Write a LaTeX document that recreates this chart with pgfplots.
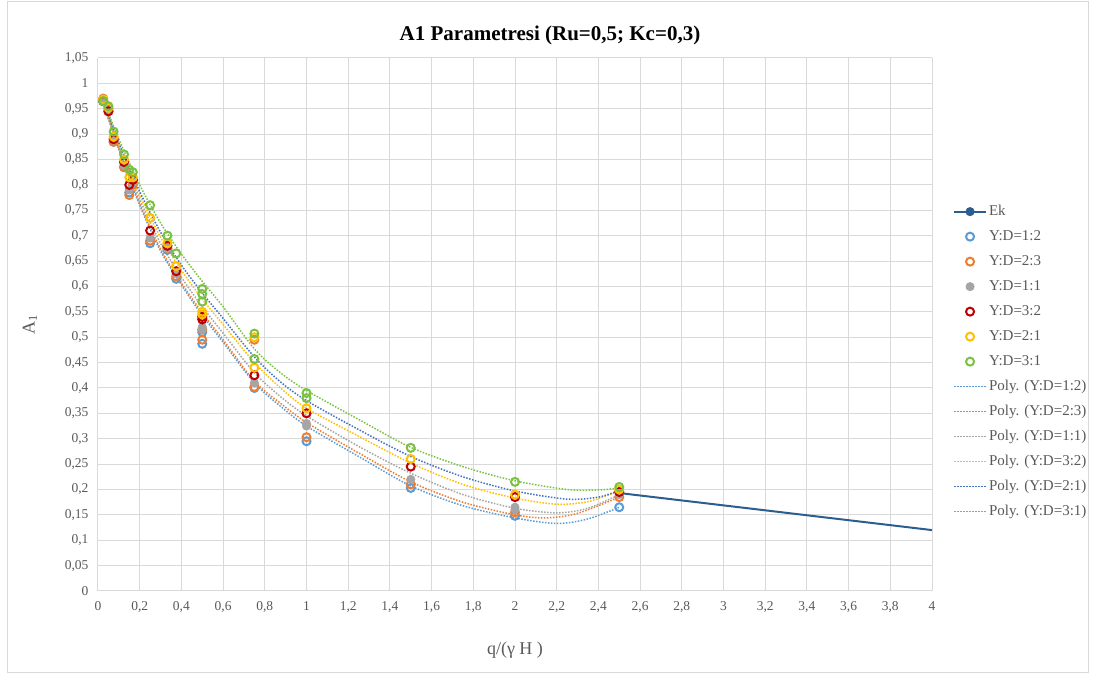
\documentclass[border=0pt]{standalone}
\usepackage{pgfplots}
\pgfplotsset{compat=1.18}
\usepackage{fontspec}
\setmainfont{Liberation Serif}
\definecolor{gridgray}{HTML}{D9D9D9}
\definecolor{textgray}{HTML}{595959}
\definecolor{cEk}{HTML}{2C5D8F}
\definecolor{cA}{HTML}{5B9BD5}
\definecolor{cB}{HTML}{ED7D31}
\definecolor{cC}{HTML}{A5A5A5}
\definecolor{cD}{HTML}{C00000}
\definecolor{cE}{HTML}{FFC000}
\definecolor{cF}{HTML}{7AC143}
\definecolor{cG}{HTML}{4472C4}
\begin{document}
\begin{tikzpicture}[x=1pt,y=1pt]
\path[use as bounding box] (-98,-88) rectangle (996,591);
\draw[gridgray, line width=1pt] (-90,-82) rectangle (990,589);
\node[font=\bfseries\fontsize{21}{24}\selectfont] at (452,556) {A1 Parametresi (Ru=0,5; Kc=0,3)};
\node[rotate=90, font=\fontsize{18}{20}\selectfont, text=textgray] at (-68,266) {A\textsubscript{1}};
\node[font=\fontsize{18}{20}\selectfont, text=textgray] at (417,-59) {q/(γ H )};
\begin{axis}[
  at={(0pt,0pt)}, anchor=south west,
  scale only axis, width=834pt, height=533pt,
  xmin=0, xmax=4, ymin=0, ymax=1.05,
  xtick={0,0.2,0.4,0.6,0.8,1,1.2,1.4,1.6,1.8,2,2.2,2.4,2.6,2.8,3,3.2,3.4,3.6,3.8,4},
  ytick={0,0.05,0.1,0.15,0.2,0.25,0.3,0.35,0.4,0.45,0.5,0.55,0.6,0.65,0.7,0.75,0.8,0.85,0.9,0.95,1,1.05},
  grid=major, major grid style={gridgray, line width=1pt},
  axis line style={draw=none}, tick style={draw=none},
  /pgf/number format/assume math mode=true,
  /pgf/number format/.cd, use comma, fixed, precision=2, /pgfplots/.cd,
  ticklabel style={font=\fontsize{13.5}{15}\selectfont, text=textgray},
  xticklabel style={yshift=-7pt},
  yticklabel style={xshift=-6pt},
  legend cell align=left,
  legend style={at={(1.025,0.729)}, anchor=north west, draw=none, fill=none,
    font=\fontsize{15}{18}\selectfont, inner sep=0pt,
    row sep=7pt, nodes={inner sep=2pt, text height=11pt, text depth=3pt}},
  scat/.style={only marks, color=#1, mark=o, mark size=4pt, line width=2pt,
    legend image code/.code={\draw[#1, line width=2pt] plot[mark=o, mark size=4pt] coordinates {(16pt,0pt)};}},
  poly/.style={smooth, color=#1, line width=1.5pt, dash pattern=on 1.5pt off 1.5pt, no marks,
    legend image code/.code={\draw[#1, line width=1.5pt, dash pattern=on 1.5pt off 1.5pt] (0pt,0pt) -- (32pt,0pt);}},
]
% Ek
\addplot[cEk, line width=2pt, no marks,
  legend image code/.code={\draw[cEk, line width=2pt] (0pt,0pt) -- (32pt,0pt); \fill[cEk] (16pt,0pt) circle (3.5pt);}]
  coordinates {(2.5,0.193) (4,0.12)};
\addlegendentry{\textcolor{textgray}{Ek}}
% Y:D=1:2
\addplot[scat=cA] coordinates {(0.025,0.965) (0.05,0.95) (0.075,0.885) (0.125,0.835) (0.15,0.785) (0.167,0.805) (0.25,0.685) (0.333,0.672) (0.375,0.615) (0.5,0.487) (0.5,0.51) (0.75,0.40) (1,0.295) (1.5,0.203) (2,0.148) (2.5,0.165)};
\addlegendentry{\textcolor{textgray}{Y:D=1:2}}
% Y:D=2:3
\addplot[scat=cB] coordinates {(0.025,0.97) (0.05,0.945) (0.075,0.885) (0.125,0.835) (0.15,0.78) (0.167,0.80) (0.25,0.69) (0.333,0.675) (0.375,0.62) (0.5,0.495) (0.5,0.515) (0.75,0.402) (0.75,0.495) (1,0.303) (1.5,0.21) (2,0.155) (2.5,0.185)};
\addlegendentry{\textcolor{textgray}{Y:D=2:3}}
% Y:D=1:1
\addplot[only marks, cC, mark=*, mark size=4pt, line width=1pt,
  legend image code/.code={\fill[cC] (16pt,0pt) circle (4pt);}] coordinates {(0.025,0.968) (0.05,0.948) (0.075,0.888) (0.125,0.838) (0.15,0.79) (0.167,0.805) (0.25,0.695) (0.333,0.675) (0.375,0.625) (0.5,0.515) (0.5,0.52) (0.75,0.41) (1,0.325) (1,0.33) (1.5,0.22) (2,0.16) (2,0.165) (2.5,0.19)};
\addlegendentry{\textcolor{textgray}{Y:D=1:1}}
% Y:D=3:2
\addplot[scat=cD] coordinates {(0.025,0.965) (0.05,0.945) (0.075,0.89) (0.125,0.845) (0.15,0.80) (0.167,0.81) (0.25,0.71) (0.333,0.68) (0.375,0.63) (0.5,0.535) (0.5,0.54) (0.75,0.425) (1,0.35) (1.5,0.245) (2,0.185) (2.5,0.195)};
\addlegendentry{\textcolor{textgray}{Y:D=3:2}}
% Y:D=2:1
\addplot[scat=cE] coordinates {(0.025,0.968) (0.05,0.952) (0.075,0.895) (0.125,0.85) (0.15,0.815) (0.167,0.815) (0.25,0.735) (0.333,0.685) (0.375,0.64) (0.5,0.55) (0.5,0.545) (0.75,0.44) (0.75,0.5) (1,0.36) (1.5,0.26) (2,0.19) (2.5,0.2)};
\addlegendentry{\textcolor{textgray}{Y:D=2:1}}
% Y:D=3:1
\addplot[scat=cF] coordinates {(0.025,0.965) (0.05,0.955) (0.075,0.905) (0.125,0.86) (0.15,0.83) (0.167,0.825) (0.25,0.76) (0.333,0.70) (0.375,0.665) (0.5,0.595) (0.5,0.585) (0.5,0.57) (0.75,0.507) (0.75,0.457) (1,0.39) (1,0.38) (1.5,0.282) (2,0.215) (2.5,0.205)};
\addlegendentry{\textcolor{textgray}{Y:D=3:1}}
% Poly trendlines
\addplot[poly=cA] coordinates {(0.025,0.96) (0.1,0.87) (0.2,0.76) (0.3,0.67) (0.4,0.603) (0.5,0.543) (0.6,0.49) (0.75,0.41) (0.875,0.364) (1,0.325) (1.25,0.265) (1.5,0.207) (1.75,0.168) (2,0.144) (2.2,0.133) (2.35,0.142) (2.5,0.165)};
\addlegendentry{\textcolor{textgray}{Poly. (Y:D=1:2)}}
\addplot[poly=cB] coordinates {(0.025,0.962) (0.1,0.872) (0.2,0.764) (0.3,0.674) (0.4,0.607) (0.5,0.548) (0.6,0.495) (0.75,0.413) (0.875,0.370) (1,0.332) (1.25,0.272) (1.5,0.215) (1.75,0.175) (2,0.150) (2.15,0.144) (2.3,0.153) (2.5,0.185)};
\addlegendentry{\textcolor{textgray}{Poly. (Y:D=2:3)}}
\addplot[poly=cC] coordinates {(0.025,0.963) (0.1,0.876) (0.2,0.772) (0.3,0.685) (0.4,0.618) (0.5,0.56) (0.6,0.508) (0.75,0.43) (0.875,0.383) (1,0.345) (1.25,0.285) (1.5,0.232) (1.75,0.19) (2,0.163) (2.2,0.154) (2.35,0.163) (2.5,0.19)};
\addlegendentry{\textcolor{textgray}{Poly. (Y:D=1:1)}}
\addplot[poly=cE] coordinates {(0.025,0.965) (0.1,0.88) (0.2,0.78) (0.3,0.697) (0.4,0.632) (0.5,0.575) (0.6,0.525) (0.75,0.45) (0.875,0.40) (1,0.36) (1.25,0.305) (1.5,0.252) (1.75,0.21) (2,0.183) (2.2,0.171) (2.35,0.176) (2.5,0.197)};
\addlegendentry{\textcolor{textgray}{Poly. (Y:D=3:2)}}
\addplot[poly=cG] coordinates {(0.025,0.966) (0.1,0.883) (0.2,0.787) (0.3,0.707) (0.4,0.642) (0.5,0.587) (0.6,0.537) (0.75,0.461) (0.875,0.412) (1,0.375) (1.25,0.318) (1.5,0.265) (1.75,0.225) (2,0.197) (2.25,0.181) (2.4,0.185) (2.5,0.198)};
\addlegendentry{\textcolor{textgray}{Poly. (Y:D=2:1)}}
\addplot[poly=cF] coordinates {(0.025,0.968) (0.1,0.89) (0.2,0.80) (0.3,0.725) (0.4,0.664) (0.5,0.61) (0.6,0.56) (0.75,0.477) (0.875,0.43) (1,0.395) (1.25,0.338) (1.5,0.283) (1.75,0.245) (2,0.217) (2.25,0.200) (2.4,0.199) (2.5,0.203)};
\addlegendentry{\textcolor{textgray}{Poly. (Y:D=3:1)}}
\end{axis}
\end{tikzpicture}
\end{document}
